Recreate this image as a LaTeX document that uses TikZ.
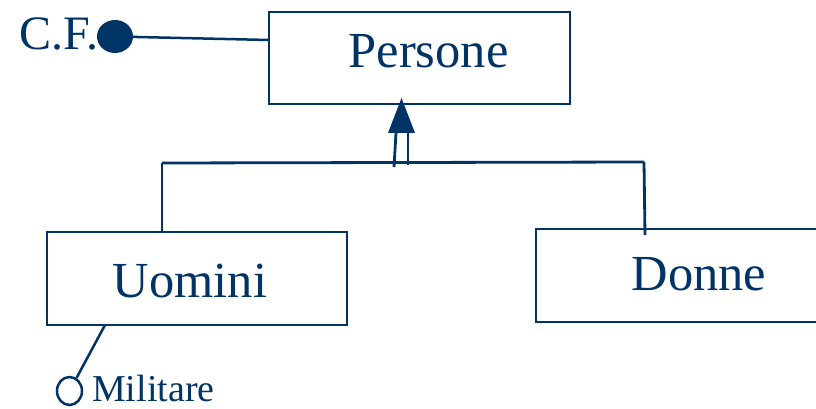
\documentclass[tikz,border=0pt]{standalone}
\usepackage{fontspec}
\setmainfont{Liberation Serif}
\usetikzlibrary{shapes.geometric}
\definecolor{navy}{RGB}{0,51,102}
\begin{document}
\begin{tikzpicture}[x=1pt,y=-1pt,
  every node/.style={text=navy},
  ln/.style={draw=navy, line width=2.8pt},
  box/.style={draw=navy, line width=2.8pt, inner sep=0pt, rectangle},
  big/.style={font=\fontsize{50.5}{60}\selectfont, anchor=base, inner sep=0pt},
  small/.style={font=\fontsize{38}{46}\selectfont, anchor=base west, inner sep=0pt}]
\useasboundingbox (0,0) rectangle (816,409);
\clip (0,0) rectangle (816,409);
% boxes
\node[box, minimum width=301pt, minimum height=92pt] (p) at (419.5,58) {};
\node[box, minimum width=300pt, minimum height=93pt] (u) at (197,278.5) {};
\node[box, minimum width=290pt, minimum height=93pt] (d) at (681,275.5) {};
% labels
\node[big] (pt) at (428.5,68) {Persone};
\node[big] (ut) at (190,297) {Uomini};
\node[big] (dt) at (699,290) {Donne};
\node[font=\fontsize{48}{58}\selectfont, anchor=base, inner sep=0pt] (cft) at (59,50) {C.F.};
\node[small] (mt) at (92,401) {Militare};
% identifier C.F.
\node[ellipse, fill=navy, minimum width=36pt, minimum height=33pt, inner sep=0pt] (dot) at (115,36.5) {};
\coordinate (cfend) at (269,40);
\draw[ln, line width=2.5pt] (dot) -- (cfend);
% attribute Militare
\node[ellipse, draw=navy, line width=2.5pt, minimum width=25pt, minimum height=28pt, inner sep=0pt] (mil) at (69.5,391) {};
\coordinate (mstart) at (105,325);
\draw[ln, line width=2.5pt] (mstart) -- (mil);
% generalization
\coordinate (tip) at (401.5,98);
\coordinate (bl) at (388,133);
\coordinate (br) at (415,133);
\fill[navy] (tip) -- (bl) -- (br) -- cycle;
\coordinate (l1) at (396,133);
\coordinate (l2) at (394,167);
\coordinate (r1) at (408,133);
\coordinate (r2) at (408,165);
\draw[ln] (l1) -- (l2);
\draw[ln] (r1) -- (r2);
\coordinate (hl) at (162,163);
\coordinate (hr) at (644,162);
\coordinate (ul) at (162,232);
\coordinate (dl) at (645,235);
\draw[ln] (hl) -- (hr);
\draw[ln] (hl) -- (ul);
\draw[ln] (hr) -- (dl);
\end{tikzpicture}
\end{document}
